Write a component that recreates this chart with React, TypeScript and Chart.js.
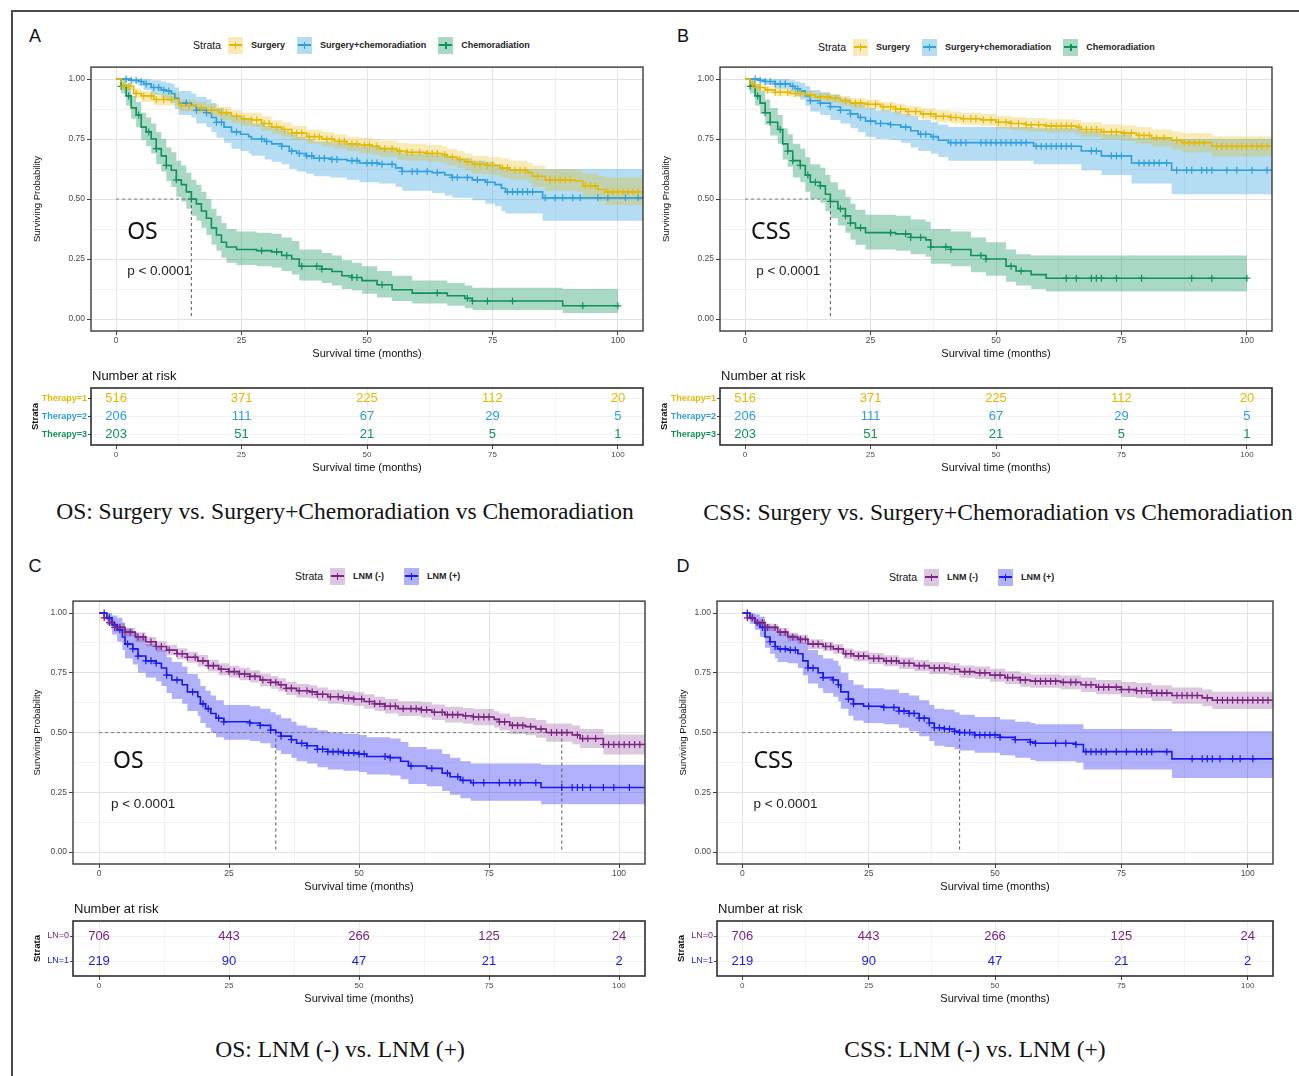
import React, { useEffect, useRef } from "react";
import { Chart, registerables } from "chart.js";

Chart.register(...registerables);

const SANS = "'Liberation Sans', Arial, sans-serif";
const SERIF = "'Liberation Serif', 'Times New Roman', serif";
const HUMAN = "'Noto Sans', 'Open Sans', sans-serif";

// ---------------- shared axes ----------------
const timeTicks = [0, 25, 50, 75, 100];
const timeMinorTicks = [12.5, 37.5, 62.5, 87.5];
const probTicks = [0, 0.25, 0.5, 0.75, 1];
const probMinorTicks = [0.125, 0.375, 0.625, 0.875];
const riskTimes = [0, 25, 50, 75, 100];

// ---------------- number at risk ----------------
const therapyLabels = ["Therapy=1", "Therapy=2", "Therapy=3"];
const riskTherapy1 = [516, 371, 225, 112, 20];
const riskTherapy2 = [206, 111, 67, 29, 5];
const riskTherapy3 = [203, 51, 21, 5, 1];
const lnLabels = ["LN=0", "LN=1"];
const riskLN0 = [706, 443, 266, 125, 24];
const riskLN1 = [219, 90, 47, 21, 2];

// ---------------- Panel A: OS by therapy ----------------
const aSurgTime = [0, 1, 3.5, 5, 7.5, 12.5, 16, 18, 20.5, 23, 25, 27, 29, 31, 33, 35, 38, 41, 43.5, 46, 48.5, 51, 52.5, 56, 58, 62, 65, 66, 68, 69.5, 71, 74, 76.5, 78.5, 82, 83, 85.5, 91.5, 93, 96, 97.5, 105];
const aSurgSurv = [1, 0.97, 0.94, 0.93, 0.915, 0.89, 0.88, 0.87, 0.86, 0.845, 0.835, 0.83, 0.815, 0.8, 0.79, 0.775, 0.76, 0.75, 0.74, 0.73, 0.725, 0.72, 0.71, 0.7, 0.695, 0.69, 0.685, 0.675, 0.665, 0.655, 0.645, 0.64, 0.63, 0.62, 0.61, 0.595, 0.58, 0.575, 0.555, 0.54, 0.53, 0.53];
const aSurgUpper = [1, 0.985, 0.96, 0.95, 0.94, 0.915, 0.905, 0.895, 0.885, 0.87, 0.86, 0.86, 0.845, 0.83, 0.82, 0.805, 0.79, 0.78, 0.77, 0.76, 0.755, 0.75, 0.745, 0.735, 0.73, 0.725, 0.72, 0.71, 0.7, 0.69, 0.68, 0.675, 0.67, 0.66, 0.65, 0.64, 0.625, 0.62, 0.605, 0.595, 0.59, 0.59];
const aSurgLower = [1, 0.955, 0.92, 0.905, 0.89, 0.865, 0.855, 0.845, 0.83, 0.815, 0.805, 0.8, 0.785, 0.77, 0.76, 0.745, 0.73, 0.72, 0.71, 0.7, 0.69, 0.685, 0.675, 0.665, 0.66, 0.655, 0.65, 0.64, 0.63, 0.62, 0.605, 0.6, 0.59, 0.58, 0.57, 0.55, 0.535, 0.53, 0.505, 0.49, 0.475, 0.475];
const aSurgCensor = [1.5, 2.5, 4, 5.5, 7, 8, 9.5, 11, 13, 14.5, 17, 19, 21, 22, 24, 25.5, 27, 28, 29.5, 30.5, 32, 33.5, 35, 36, 37, 38.5, 39.5, 40.5, 42, 43, 44.5, 45.5, 47, 48, 49.5, 50.5, 52, 53.5, 55, 56.5, 58, 59, 60.5, 62, 63, 64, 65.5, 67, 68.5, 70, 71.5, 72.5, 74, 75, 77, 78, 79.5, 80.5, 81.5, 84, 86.5, 87.5, 88.5, 89.5, 90.5, 93.5, 94.5, 95.5, 98, 99, 100, 101, 102, 103, 104];

const aScTime = [0, 3, 4.5, 5.5, 7, 9, 10, 11, 11.7, 12.5, 15, 16, 18, 19, 20, 21.5, 23, 24.8, 26.4, 27, 29.6, 31, 33, 34.5, 36, 37.8, 39.4, 42.7, 46, 48.5, 52.4, 55.7, 57, 63, 65.5, 67, 71, 73.6, 75.5, 76.8, 77.6, 85, 105];
const aScSurv = [1, 0.995, 0.99, 0.98, 0.965, 0.955, 0.95, 0.94, 0.92, 0.9, 0.89, 0.87, 0.86, 0.84, 0.82, 0.8, 0.78, 0.77, 0.76, 0.75, 0.74, 0.73, 0.72, 0.7, 0.69, 0.68, 0.67, 0.665, 0.66, 0.65, 0.645, 0.63, 0.615, 0.61, 0.6, 0.59, 0.58, 0.57, 0.56, 0.545, 0.53, 0.505, 0.505];
const aScUpper = [1, 1, 1, 1, 0.995, 0.99, 0.985, 0.98, 0.965, 0.95, 0.94, 0.925, 0.915, 0.9, 0.88, 0.865, 0.845, 0.835, 0.825, 0.815, 0.805, 0.795, 0.785, 0.77, 0.76, 0.75, 0.74, 0.735, 0.73, 0.72, 0.715, 0.705, 0.69, 0.685, 0.68, 0.67, 0.66, 0.655, 0.645, 0.635, 0.625, 0.625, 0.625];
const aScLower = [1, 0.985, 0.97, 0.955, 0.935, 0.92, 0.91, 0.9, 0.875, 0.85, 0.84, 0.815, 0.8, 0.78, 0.755, 0.735, 0.71, 0.7, 0.69, 0.68, 0.665, 0.655, 0.645, 0.625, 0.615, 0.605, 0.595, 0.59, 0.58, 0.57, 0.565, 0.55, 0.535, 0.525, 0.515, 0.505, 0.495, 0.48, 0.47, 0.45, 0.44, 0.41, 0.41];
const aScCensor = [2, 3, 4, 5, 6, 7.5, 8.5, 9.5, 10.5, 14, 16, 18, 20, 21, 24, 29, 30, 33, 35, 36.5, 38, 39, 40.5, 41.5, 43, 44, 47, 48, 50, 51, 52, 53, 55, 57, 59, 60, 62, 64, 67, 68, 70, 72, 74, 78, 79, 80, 81, 82, 83, 85.5, 87.5, 89, 91, 92.5, 96, 98, 101.5, 104];

const aChTime = [0, 1, 2, 3, 4, 5, 6, 7, 8, 9, 10, 11, 12, 13, 14, 15, 16, 17, 18, 19, 20, 21, 22, 24, 28, 31, 33, 35, 36.5, 41, 43, 45, 47, 49, 52, 55, 59, 66, 69.5, 71, 89, 100];
const aChSurv = [1, 0.97, 0.93, 0.88, 0.85, 0.8, 0.78, 0.75, 0.71, 0.68, 0.64, 0.62, 0.58, 0.56, 0.53, 0.5, 0.48, 0.45, 0.42, 0.38, 0.35, 0.32, 0.3, 0.29, 0.285, 0.28, 0.265, 0.25, 0.22, 0.208, 0.198, 0.18, 0.173, 0.16, 0.143, 0.122, 0.108, 0.097, 0.086, 0.075, 0.055, 0.055];
const aChUpper = [1, 1, 0.98, 0.93, 0.905, 0.86, 0.84, 0.815, 0.78, 0.75, 0.715, 0.695, 0.66, 0.64, 0.61, 0.58, 0.56, 0.53, 0.5, 0.46, 0.43, 0.4, 0.375, 0.365, 0.36, 0.355, 0.34, 0.325, 0.29, 0.275, 0.265, 0.245, 0.235, 0.22, 0.2, 0.18, 0.16, 0.15, 0.14, 0.13, 0.125, 0.125];
const aChLower = [1, 0.94, 0.89, 0.835, 0.8, 0.745, 0.72, 0.69, 0.645, 0.615, 0.575, 0.55, 0.51, 0.49, 0.46, 0.43, 0.41, 0.38, 0.35, 0.31, 0.285, 0.255, 0.235, 0.225, 0.22, 0.215, 0.2, 0.185, 0.16, 0.15, 0.14, 0.125, 0.12, 0.105, 0.09, 0.075, 0.065, 0.055, 0.045, 0.038, 0.025, 0.025];
const aChCensor = [1, 2.5, 4.5, 6.5, 8, 10, 12, 15, 29, 32, 34, 37, 40, 41, 47, 48, 53, 64, 70, 71, 74, 79, 93, 100];

// ---------------- Panel B: CSS by therapy ----------------
const bSurgTime = [0, 1, 2, 4, 6, 9, 12, 14, 17, 19, 21, 24, 27, 30, 32, 35, 38, 41, 43, 47, 50, 53, 56, 60, 66, 67, 71, 75, 78, 81, 85, 87, 93, 105];
const bSurgSurv = [1, 0.98, 0.965, 0.955, 0.945, 0.94, 0.935, 0.925, 0.92, 0.91, 0.9, 0.895, 0.885, 0.875, 0.865, 0.855, 0.845, 0.84, 0.835, 0.83, 0.82, 0.815, 0.81, 0.805, 0.8, 0.79, 0.78, 0.775, 0.765, 0.755, 0.745, 0.735, 0.72, 0.715];
const bSurgUpper = [1, 0.99, 0.98, 0.97, 0.96, 0.955, 0.95, 0.942, 0.938, 0.93, 0.92, 0.915, 0.905, 0.897, 0.888, 0.878, 0.87, 0.865, 0.86, 0.855, 0.847, 0.842, 0.838, 0.833, 0.83, 0.82, 0.812, 0.808, 0.8, 0.79, 0.782, 0.775, 0.762, 0.76];
const bSurgLower = [1, 0.97, 0.95, 0.94, 0.93, 0.925, 0.92, 0.908, 0.902, 0.89, 0.88, 0.875, 0.865, 0.853, 0.842, 0.832, 0.82, 0.815, 0.81, 0.805, 0.793, 0.788, 0.782, 0.777, 0.77, 0.76, 0.748, 0.742, 0.73, 0.72, 0.708, 0.695, 0.678, 0.67];
const bSurgCensor = [1.5, 3, 4.5, 6, 7, 8.5, 10, 11, 13, 15, 16.5, 18, 20, 22, 23, 24.5, 26, 27.5, 29, 30, 31, 32.5, 34, 35.5, 37, 38, 39.5, 41, 42, 43.5, 45, 46, 47.5, 49, 50.5, 52, 53, 54.5, 56, 57, 58.5, 60, 61, 62, 63, 64, 65, 66.5, 68, 69, 70, 71.5, 73, 74, 75.5, 77, 78.5, 79.5, 80.5, 82, 83.5, 86, 87.5, 88.5, 89.5, 90.5, 91.5, 94, 95, 96, 97, 98, 99, 100, 101, 102, 103, 104];

const bScTime = [0, 3, 4, 6, 9, 10, 11, 12, 13, 15, 17, 19, 21, 22.5, 24, 26, 29, 31, 33, 34.5, 37, 38.5, 40.5, 57.5, 67, 71, 77, 85, 105];
const bScSurv = [1, 0.995, 0.99, 0.98, 0.97, 0.96, 0.95, 0.93, 0.91, 0.9, 0.885, 0.87, 0.855, 0.84, 0.825, 0.815, 0.81, 0.8, 0.785, 0.77, 0.76, 0.745, 0.735, 0.72, 0.7, 0.68, 0.65, 0.62, 0.62];
const bScUpper = [1, 1, 1, 1, 0.995, 0.99, 0.985, 0.97, 0.955, 0.945, 0.935, 0.92, 0.905, 0.895, 0.88, 0.87, 0.865, 0.855, 0.845, 0.83, 0.82, 0.81, 0.8, 0.795, 0.785, 0.77, 0.755, 0.75, 0.75];
const bScLower = [1, 0.985, 0.975, 0.96, 0.945, 0.93, 0.915, 0.89, 0.865, 0.85, 0.83, 0.815, 0.795, 0.78, 0.76, 0.75, 0.745, 0.735, 0.715, 0.7, 0.69, 0.675, 0.66, 0.645, 0.62, 0.6, 0.565, 0.52, 0.52];
const bScCensor = [2, 3, 4, 5, 6, 7, 8, 9.5, 10.5, 13, 15, 17, 19, 21, 23, 25, 27, 29, 32, 35, 36, 37.5, 41, 42, 43, 44, 47, 48, 49, 50, 51, 52, 53, 54, 55, 56, 58, 59, 60, 61, 62, 63, 64, 65, 69, 70, 73, 74, 75, 78.5, 79.5, 80.5, 81.5, 82.5, 84, 86, 88, 89, 91, 92, 93, 96, 98, 101, 104];

const bChTime = [0, 1, 2, 3, 4, 5, 6.5, 7.5, 8.5, 9.5, 11, 12, 13, 15, 16, 17, 18.5, 20, 21, 22, 24, 30, 33, 36, 37, 41, 45, 48, 52, 54, 57, 60, 100];
const bChSurv = [1, 0.97, 0.93, 0.9, 0.86, 0.82, 0.79, 0.73, 0.7, 0.66, 0.64, 0.6, 0.57, 0.555, 0.52, 0.49, 0.46, 0.43, 0.4, 0.38, 0.36, 0.355, 0.34, 0.33, 0.3, 0.29, 0.265, 0.25, 0.22, 0.2, 0.185, 0.17, 0.17];
const bChUpper = [1, 1, 0.98, 0.95, 0.915, 0.88, 0.85, 0.795, 0.77, 0.73, 0.71, 0.675, 0.645, 0.63, 0.6, 0.57, 0.54, 0.51, 0.48, 0.455, 0.435, 0.43, 0.415, 0.405, 0.375, 0.365, 0.34, 0.32, 0.29, 0.27, 0.265, 0.265, 0.265];
const bChLower = [1, 0.94, 0.89, 0.855, 0.81, 0.765, 0.73, 0.665, 0.635, 0.59, 0.57, 0.53, 0.5, 0.485, 0.45, 0.42, 0.39, 0.36, 0.33, 0.31, 0.29, 0.285, 0.27, 0.26, 0.23, 0.22, 0.195, 0.18, 0.155, 0.14, 0.125, 0.115, 0.115];
const bChCensor = [1, 2.5, 4, 5, 7, 8.5, 9.5, 11, 12.5, 14, 15, 17, 19, 20, 21, 23, 29, 32, 33, 35, 37, 40, 41, 47, 48, 53, 55, 64, 66, 69, 70, 71, 74, 79, 89, 93, 100];

// ---------------- Panel C: OS by lymph node status ----------------
const cNegTime = [0, 1, 2, 3, 5, 7, 9, 11, 13, 15, 17, 19, 21, 23, 25, 27, 29, 31, 33, 34.5, 36, 38, 40.5, 42, 44, 47, 49, 51, 53, 55, 57.5, 62, 64, 66.5, 70, 72, 76, 77, 79, 82, 84, 86, 91, 92.5, 97, 105];
const cNegSurv = [1, 0.98, 0.96, 0.94, 0.92, 0.9, 0.88, 0.86, 0.845, 0.83, 0.815, 0.8, 0.78, 0.765, 0.755, 0.745, 0.735, 0.72, 0.71, 0.7, 0.685, 0.675, 0.67, 0.66, 0.65, 0.645, 0.64, 0.63, 0.62, 0.61, 0.6, 0.595, 0.585, 0.575, 0.57, 0.565, 0.555, 0.545, 0.53, 0.525, 0.515, 0.5, 0.49, 0.475, 0.45, 0.45];
const cNegUpper = [1, 0.99, 0.975, 0.957, 0.938, 0.92, 0.9, 0.882, 0.867, 0.853, 0.838, 0.824, 0.805, 0.79, 0.78, 0.771, 0.761, 0.747, 0.737, 0.727, 0.713, 0.703, 0.698, 0.688, 0.679, 0.674, 0.669, 0.66, 0.65, 0.64, 0.631, 0.627, 0.617, 0.608, 0.603, 0.599, 0.589, 0.58, 0.566, 0.561, 0.552, 0.538, 0.529, 0.515, 0.492, 0.492];
const cNegLower = [1, 0.97, 0.945, 0.923, 0.902, 0.88, 0.86, 0.838, 0.823, 0.807, 0.792, 0.776, 0.755, 0.74, 0.73, 0.719, 0.709, 0.693, 0.683, 0.673, 0.657, 0.647, 0.642, 0.632, 0.621, 0.616, 0.611, 0.6, 0.59, 0.58, 0.569, 0.563, 0.553, 0.542, 0.537, 0.531, 0.521, 0.51, 0.494, 0.489, 0.478, 0.462, 0.451, 0.435, 0.408, 0.408];
const cNegCensor = [1, 2, 3, 4, 5, 6, 7.5, 8.5, 10, 11, 12, 13.5, 15, 16, 17, 18.5, 20, 21, 22, 23.5, 25, 26, 27, 28, 29, 30, 31.5, 33, 34, 35, 36, 37, 38.5, 40, 41, 42, 43, 44.5, 46, 47, 48, 49, 50.5, 52, 53, 54, 55, 56, 57, 58.5, 60, 61, 62, 63, 64.5, 66, 67, 68, 69, 70.5, 72, 73, 74, 75, 77, 78, 79.5, 80.5, 81.5, 83, 85, 87, 88, 89, 90, 92, 93, 94, 95.5, 97, 98, 99, 100, 101, 102, 103, 104];

const cPosTime = [0, 1.5, 2.5, 3.5, 4.5, 5, 6.5, 7.5, 9, 11, 12, 13, 14, 16, 17, 19, 19.5, 20.5, 21.5, 22.5, 24, 29, 31, 33, 34, 35, 37, 38, 40, 42, 44, 47, 50, 51.5, 56, 58, 59.5, 63, 66, 67.5, 69.5, 71.5, 85, 105];
const cPosSurv = [1, 0.98, 0.95, 0.93, 0.9, 0.87, 0.85, 0.82, 0.8, 0.79, 0.77, 0.74, 0.72, 0.7, 0.67, 0.65, 0.62, 0.6, 0.58, 0.56, 0.545, 0.54, 0.53, 0.51, 0.5, 0.485, 0.47, 0.455, 0.445, 0.43, 0.42, 0.415, 0.41, 0.4, 0.395, 0.38, 0.36, 0.35, 0.33, 0.315, 0.3, 0.29, 0.27, 0.27];
const cPosUpper = [1, 1, 0.99, 0.98, 0.96, 0.935, 0.915, 0.895, 0.87, 0.86, 0.845, 0.815, 0.795, 0.775, 0.745, 0.725, 0.695, 0.675, 0.655, 0.635, 0.615, 0.61, 0.6, 0.585, 0.575, 0.56, 0.545, 0.53, 0.52, 0.51, 0.5, 0.495, 0.49, 0.48, 0.475, 0.46, 0.44, 0.43, 0.41, 0.395, 0.38, 0.37, 0.365, 0.365];
const cPosLower = [1, 0.95, 0.91, 0.88, 0.845, 0.81, 0.785, 0.75, 0.73, 0.715, 0.695, 0.665, 0.64, 0.62, 0.59, 0.57, 0.54, 0.52, 0.5, 0.48, 0.47, 0.465, 0.455, 0.435, 0.425, 0.41, 0.395, 0.38, 0.37, 0.355, 0.345, 0.34, 0.335, 0.325, 0.32, 0.305, 0.285, 0.275, 0.255, 0.24, 0.225, 0.215, 0.2, 0.2];
const cPosCensor = [1, 2, 3, 4, 5.5, 6.5, 7.5, 9, 10, 11, 13, 15, 18, 20, 21, 23, 24, 29, 31, 33, 35, 37, 39, 40, 42, 43, 44, 45, 46, 47, 48, 49, 50, 51, 55, 56, 60, 64, 67, 69, 70, 72, 74, 77, 79, 80, 81, 84, 89, 91, 92, 93, 94.5, 97, 99, 102];

// ---------------- Panel D: CSS by lymph node status ----------------
const dNegTime = [0, 1, 2.5, 4.5, 7, 9, 11, 13, 16, 18, 20, 22, 25, 28, 31, 34, 37, 41, 43, 46, 49, 52, 55, 57, 63, 67, 70, 75, 78, 81, 85, 91, 93, 105];
const dNegSurv = [1, 0.98, 0.96, 0.94, 0.92, 0.9, 0.89, 0.87, 0.86, 0.85, 0.83, 0.82, 0.81, 0.8, 0.79, 0.78, 0.77, 0.765, 0.755, 0.75, 0.74, 0.73, 0.72, 0.715, 0.71, 0.7, 0.69, 0.68, 0.675, 0.665, 0.655, 0.645, 0.635, 0.635];
const dNegUpper = [1, 0.99, 0.973, 0.955, 0.937, 0.918, 0.909, 0.89, 0.88, 0.871, 0.852, 0.842, 0.833, 0.823, 0.814, 0.804, 0.795, 0.79, 0.781, 0.776, 0.767, 0.757, 0.748, 0.743, 0.739, 0.73, 0.72, 0.711, 0.707, 0.698, 0.689, 0.68, 0.671, 0.671];
const dNegLower = [1, 0.97, 0.947, 0.925, 0.903, 0.882, 0.871, 0.85, 0.84, 0.829, 0.808, 0.798, 0.787, 0.777, 0.766, 0.756, 0.745, 0.74, 0.729, 0.724, 0.713, 0.703, 0.692, 0.687, 0.681, 0.67, 0.66, 0.649, 0.643, 0.632, 0.621, 0.61, 0.599, 0.599];
const dNegCensor = [1, 2, 3, 4, 5, 6.5, 7.5, 8.5, 10, 11.5, 12.5, 14, 15, 16.5, 17.5, 19, 20.5, 21.5, 23, 24, 26, 27, 28.5, 29.5, 30.5, 32, 33, 35, 36, 38, 39, 40, 42, 44, 45, 47, 48, 50, 51, 52.5, 53.5, 55, 56, 58, 59, 60, 61, 62, 63.5, 65, 66, 68, 69, 70.5, 71.5, 72.5, 74, 75, 76.5, 78, 79, 80, 81, 82, 83, 84, 86, 87, 88, 89, 90, 92, 94, 95, 96, 97, 98, 99, 100, 101, 102, 103, 104];

const dPosTime = [0, 1.5, 2.5, 3.5, 4.5, 5.5, 6.5, 7, 9, 11, 12, 13, 15, 16, 18, 19, 19.5, 21, 22, 24, 28, 31, 33, 35, 37, 38, 40, 42, 43, 46, 51, 54, 57, 58, 66, 67.5, 85, 105];
const dPosSurv = [1, 0.98, 0.96, 0.94, 0.9, 0.88, 0.86, 0.85, 0.845, 0.83, 0.8, 0.77, 0.75, 0.73, 0.72, 0.7, 0.67, 0.64, 0.62, 0.61, 0.605, 0.59, 0.58, 0.56, 0.54, 0.52, 0.515, 0.505, 0.5, 0.49, 0.48, 0.47, 0.46, 0.455, 0.45, 0.42, 0.39, 0.39];
const dPosUpper = [1, 1, 0.995, 0.985, 0.955, 0.94, 0.925, 0.915, 0.91, 0.9, 0.875, 0.845, 0.825, 0.81, 0.8, 0.78, 0.75, 0.72, 0.7, 0.685, 0.68, 0.665, 0.655, 0.635, 0.615, 0.6, 0.595, 0.585, 0.575, 0.565, 0.555, 0.545, 0.54, 0.535, 0.535, 0.515, 0.505, 0.505];
const dPosLower = [1, 0.955, 0.93, 0.9, 0.855, 0.83, 0.81, 0.795, 0.79, 0.77, 0.74, 0.705, 0.685, 0.665, 0.65, 0.63, 0.6, 0.57, 0.55, 0.54, 0.535, 0.52, 0.505, 0.485, 0.465, 0.445, 0.44, 0.43, 0.425, 0.415, 0.405, 0.395, 0.385, 0.38, 0.375, 0.345, 0.31, 0.31];
const dPosCensor = [1, 2, 3, 4, 5.5, 6.5, 7.5, 8.5, 9.5, 10.5, 13, 14, 16, 18, 19, 21, 22, 25, 28, 30, 31, 32, 33, 34, 35, 36, 37, 38, 39, 40, 41, 42, 43, 44, 45, 46, 47, 48, 49, 50, 51, 54, 57, 58, 62, 64, 66, 68, 69, 70, 71, 72, 74, 76, 78, 79, 80, 81, 84, 89, 91, 92, 93, 94.5, 97, 98.5, 101];

// ---------------- colours ----------------
const COL_SURG = "#E7B800";
const COL_SC = "#2E9FDF";
const COL_CH = "#10925B";
const COL_NEG = "#7A2383";
const COL_POS = "#1818F2";
const BAND_SURG = "rgba(231,184,0,0.28)";
const BAND_SC = "rgba(46,159,223,0.36)";
const BAND_CH = "rgba(16,146,91,0.36)";
const BAND_NEG = "rgba(122,35,131,0.26)";
const BAND_POS = "rgba(24,24,242,0.34)";

type Series = {
  label: string; color: string; band: string;
  time: number[]; surv: number[];
  upper: number[]; lower: number[];
  censor: number[];
};
type Box = { l: number; t: number; r: number; b: number };
type RiskRow = { label: string; color: string; values: number[] };
type Panel = {
  letter: string; letterX: number; letterY: number;
  plot: Box; risk: Box;
  yTitleGap: number; strataGap: number;
  legendLeft: number; legendY: number; legendGap: number;
  series: Series[];
  medians: number[];
  tag: string; tagAt: [number, number]; pAt: [number, number];
  riskRows: RiskRow[]; riskLabelBold: boolean;
  caption: string; captionX: number; captionY: number;
};

type Arr5 = [number[], number[], number[], number[], number[]];
const mk = (label: string, color: string, band: string, s: Arr5): Series => ({
  label, color, band, time: s[0], surv: s[1], upper: s[2], lower: s[3], censor: s[4],
});

const therapyRisk: RiskRow[] = [
  { label: therapyLabels[0], color: COL_SURG, values: riskTherapy1 },
  { label: therapyLabels[1], color: COL_SC, values: riskTherapy2 },
  { label: therapyLabels[2], color: COL_CH, values: riskTherapy3 },
];
const lnRisk: RiskRow[] = [
  { label: lnLabels[0], color: COL_NEG, values: riskLN0 },
  { label: lnLabels[1], color: COL_POS, values: riskLN1 },
];

const panels: Panel[] = [
  {
    letter: "A", letterX: 35, letterY: 36,
    plot: { l: 91, t: 66, r: 643, b: 331 }, risk: { l: 91, t: 388, r: 643, b: 445 },
    yTitleGap: 54, strataGap: 56, legendLeft: 193, legendY: 45, legendGap: 12,
    series: [
      mk("Surgery", COL_SURG, BAND_SURG, [aSurgTime, aSurgSurv, aSurgUpper, aSurgLower, aSurgCensor]),
      mk("Surgery+chemoradiation", COL_SC, BAND_SC, [aScTime, aScSurv, aScUpper, aScLower, aScCensor]),
      mk("Chemoradiation", COL_CH, BAND_CH, [aChTime, aChSurv, aChUpper, aChLower, aChCensor]),
    ],
    medians: [15], tag: "OS", tagAt: [2.2, 0.36], pAt: [2.2, 0.2],
    riskRows: therapyRisk, riskLabelBold: true,
    caption: "OS: Surgery vs. Surgery+Chemoradiation vs Chemoradiation", captionX: 345, captionY: 512,
  },
  {
    letter: "B", letterX: 683, letterY: 36,
    plot: { l: 720, t: 66, r: 1272, b: 331 }, risk: { l: 720, t: 388, r: 1272, b: 445 },
    yTitleGap: 54, strataGap: 56, legendLeft: 818, legendY: 47, legendGap: 12,
    series: [
      mk("Surgery", COL_SURG, BAND_SURG, [bSurgTime, bSurgSurv, bSurgUpper, bSurgLower, bSurgCensor]),
      mk("Surgery+chemoradiation", COL_SC, BAND_SC, [bScTime, bScSurv, bScUpper, bScLower, bScCensor]),
      mk("Chemoradiation", COL_CH, BAND_CH, [bChTime, bChSurv, bChUpper, bChLower, bChCensor]),
    ],
    medians: [17], tag: "CSS", tagAt: [1.2, 0.36], pAt: [2.2, 0.2],
    riskRows: therapyRisk, riskLabelBold: true,
    caption: "CSS: Surgery vs. Surgery+Chemoradiation vs Chemoradiation", captionX: 998, captionY: 513,
  },
  {
    letter: "C", letterX: 35, letterY: 566,
    plot: { l: 73, t: 600, r: 645, b: 864 }, risk: { l: 73, t: 921, r: 645, b: 976 },
    yTitleGap: 36, strataGap: 36, legendLeft: 295, legendY: 576, legendGap: 20,
    series: [
      mk("LNM (-)", COL_NEG, BAND_NEG, [cNegTime, cNegSurv, cNegUpper, cNegLower, cNegCensor]),
      mk("LNM (+)", COL_POS, BAND_POS, [cPosTime, cPosSurv, cPosUpper, cPosLower, cPosCensor]),
    ],
    medians: [34, 89], tag: "OS", tagAt: [2.7, 0.378], pAt: [2.3, 0.2],
    riskRows: lnRisk, riskLabelBold: false,
    caption: "OS: LNM (-) vs. LNM (+)", captionX: 340, captionY: 1050,
  },
  {
    letter: "D", letterX: 683, letterY: 566,
    plot: { l: 717, t: 600, r: 1273, b: 864 }, risk: { l: 717, t: 921, r: 1273, b: 976 },
    yTitleGap: 34, strataGap: 36, legendLeft: 889, legendY: 577, legendGap: 20,
    series: [
      mk("LNM (-)", COL_NEG, BAND_NEG, [dNegTime, dNegSurv, dNegUpper, dNegLower, dNegCensor]),
      mk("LNM (+)", COL_POS, BAND_POS, [dPosTime, dPosSurv, dPosUpper, dPosLower, dPosCensor]),
    ],
    medians: [43], tag: "CSS", tagAt: [2.2, 0.378], pAt: [2.2, 0.2],
    riskRows: lnRisk, riskLabelBold: false,
    caption: "CSS: LNM (-) vs. LNM (+)", captionX: 975, captionY: 1050,
  },
];

function stepAt(times: number[], surv: number[], t: number): number {
  let v = surv[0];
  for (let i = 0; i < times.length; i++) {
    if (times[i] <= t) v = surv[i];
    else break;
  }
  return v;
}

const KM_PAD = { l: 80, t: 6, r: 8, b: 40 };
const RISK_PAD = { l: 80, t: 24, r: 8, b: 34 };

function gridOpts(major: number[], majorCol: string, minorCol: string) {
  return {
    color: (c: any) => (c.tick && major.includes(c.tick.value) ? majorCol : minorCol),
    tickColor: (c: any) => (c.tick && major.includes(c.tick.value) ? "#444" : "rgba(0,0,0,0)"),
    tickLength: 4,
    lineWidth: 1,
    drawTicks: true,
  };
}

function KMPlot({ p }: { p: Panel }) {
  const ref = useRef<HTMLCanvasElement | null>(null);
  const W = p.plot.r - p.plot.l + KM_PAD.l + KM_PAD.r;
  const H = p.plot.b - p.plot.t + KM_PAD.t + KM_PAD.b;
  useEffect(() => {
    if (!ref.current) return;
    const datasets: any[] = [];
    p.series.forEach((s) =>
      datasets.push({
        type: "scatter",
        data: s.censor.map((x) => ({ x, y: stepAt(s.time, s.surv, x) })),
        pointStyle: "cross", pointRadius: 3.5, pointHoverRadius: 3.5,
        borderColor: s.color, backgroundColor: s.color, pointBorderWidth: 1.2,
        showLine: false, order: 0,
      })
    );
    p.series.forEach((s) =>
      datasets.push({
        type: "line",
        data: s.time.map((x, i) => ({ x, y: s.surv[i] })),
        stepped: true, borderColor: s.color, borderWidth: 1.6,
        pointRadius: 0, pointHoverRadius: 0, fill: false, order: 1,
      })
    );
    const medMax = Math.max(...p.medians);
    datasets.push({
      type: "line", data: [{ x: 0, y: 0.5 }, { x: medMax, y: 0.5 }],
      borderColor: "#7a7a7a", borderDash: [3, 3], borderWidth: 1, pointRadius: 0, fill: false, order: 2,
    });
    p.medians.forEach((m) =>
      datasets.push({
        type: "line", data: [{ x: m, y: 0.5 }, { x: m, y: 0 }],
        borderColor: "#555", borderDash: [3, 3], borderWidth: 1, pointRadius: 0, fill: false, order: 2,
      })
    );
    p.series.forEach((s) => {
      datasets.push({
        type: "line", data: s.time.map((x, i) => ({ x, y: s.upper[i] })),
        stepped: true, borderWidth: 0, borderColor: "rgba(0,0,0,0)", pointRadius: 0, fill: false, order: 3,
      });
      datasets.push({
        type: "line", data: s.time.map((x, i) => ({ x, y: s.lower[i] })),
        stepped: true, borderWidth: 0, borderColor: "rgba(0,0,0,0)", pointRadius: 0,
        fill: "-1", backgroundColor: s.band, order: 3,
      });
    });

    const decor = {
      id: "kmDecor",
      afterDatasetsDraw(chart: any) {
        const { ctx, chartArea: a, scales } = chart;
        const x = scales.x, y = scales.y;
        ctx.save();
        ctx.strokeStyle = "#3a3a3a";
        ctx.lineWidth = 1.4;
        ctx.strokeRect(a.left, a.top, a.right - a.left, a.bottom - a.top);
        ctx.fillStyle = "#111";
        ctx.textAlign = "left";
        ctx.textBaseline = "middle";
        ctx.font = `23px ${HUMAN}`;
        ctx.fillText(p.tag, x.getPixelForValue(p.tagAt[0]), y.getPixelForValue(p.tagAt[1]));
        ctx.font = `13.5px ${SANS}`;
        ctx.fillStyle = "#222";
        ctx.fillText("p < 0.0001", x.getPixelForValue(p.pAt[0]), y.getPixelForValue(p.pAt[1]));
        ctx.fillStyle = "#111";
        ctx.textAlign = "center";
        ctx.font = `11px ${SANS}`;
        ctx.fillText("Survival time (months)", (a.left + a.right) / 2, a.bottom + 23);
        ctx.translate(a.left - p.yTitleGap, (a.top + a.bottom) / 2);
        ctx.rotate(-Math.PI / 2);
        ctx.font = `9.5px ${SANS}`;
        ctx.fillText("Surviving Probability", 0, 0);
        ctx.restore();
      },
    };

    const chart = new Chart(ref.current, {
      type: "scatter",
      data: { datasets },
      options: {
        responsive: false,
        animation: false,
        events: [],
        layout: { padding: { left: 0, top: KM_PAD.t, right: KM_PAD.r, bottom: 0 } },
        plugins: { legend: { display: false }, tooltip: { enabled: false } },
        scales: {
          x: {
            type: "linear", min: -5, max: 105,
            afterBuildTicks: (sc: any) => {
              sc.ticks = [...timeTicks, ...timeMinorTicks].sort((m, n) => m - n).map((v) => ({ value: v }));
            },
            afterFit: (sc: any) => { sc.height = KM_PAD.b; },
            ticks: {
              autoSkip: false, maxRotation: 0, padding: 1,
              font: { family: SANS, size: 8.5 }, color: "#4a4a4a",
              callback: (v: any) => (timeTicks.includes(v) ? String(v) : ""),
            },
            grid: gridOpts(timeTicks, "#E3E3E3", "#F1F1F1"),
            border: { display: false },
          },
          y: {
            type: "linear", min: -0.05, max: 1.05,
            afterBuildTicks: (sc: any) => {
              sc.ticks = [...probTicks, ...probMinorTicks].sort((m, n) => m - n).map((v) => ({ value: v }));
            },
            afterFit: (sc: any) => { sc.width = KM_PAD.l; },
            ticks: {
              autoSkip: false, padding: 2,
              font: { family: SANS, size: 8.5 }, color: "#4a4a4a",
              callback: (v: any) => (probTicks.includes(v) ? Number(v).toFixed(2) : ""),
            },
            grid: gridOpts(probTicks, "#E3E3E3", "#F1F1F1"),
            border: { display: false },
          },
        },
      } as any,
      plugins: [decor],
    });
    return () => chart.destroy();
  }, [p]);
  return (
    <canvas
      ref={ref}
      width={W}
      height={H}
      style={{ position: "absolute", left: p.plot.l - KM_PAD.l, top: p.plot.t - KM_PAD.t, width: W, height: H }}
    />
  );
}

function RiskTable({ p }: { p: Panel }) {
  const ref = useRef<HTMLCanvasElement | null>(null);
  const W = p.risk.r - p.risk.l + RISK_PAD.l + RISK_PAD.r;
  const H = p.risk.b - p.risk.t + RISK_PAD.t + RISK_PAD.b;
  useEffect(() => {
    if (!ref.current) return;
    const rows = p.riskRows;
    const n = rows.length;
    const datasets = rows.map((r, i) => ({
      type: "scatter",
      data: riskTimes.map((t) => ({ x: t, y: n - i })),
      pointRadius: 0, pointHoverRadius: 0,
    }));
    const decor = {
      id: "riskDecor",
      afterDatasetsDraw(chart: any) {
        const { ctx, chartArea: a } = chart;
        ctx.save();
        ctx.textAlign = "center";
        ctx.textBaseline = "middle";
        ctx.font = `13px ${SANS}`;
        rows.forEach((r, i) => {
          const meta = chart.getDatasetMeta(i);
          ctx.fillStyle = r.color;
          meta.data.forEach((el: any, j: number) => {
            ctx.fillText(String(r.values[j]), el.x, el.y);
          });
        });
        ctx.strokeStyle = "#2e2e2e";
        ctx.lineWidth = 1.6;
        ctx.strokeRect(a.left, a.top, a.right - a.left, a.bottom - a.top);
        ctx.fillStyle = "#111";
        ctx.textAlign = "left";
        ctx.font = `13px ${SANS}`;
        ctx.fillText("Number at risk", a.left + 1, a.top - 12);
        ctx.textAlign = "center";
        ctx.font = `11px ${SANS}`;
        ctx.fillText("Survival time (months)", (a.left + a.right) / 2, a.bottom + 23);
        ctx.translate(a.left - p.strataGap, (a.top + a.bottom) / 2);
        ctx.rotate(-Math.PI / 2);
        ctx.font = `bold 9.5px ${SANS}`;
        ctx.fillText("Strata", 0, 0);
        ctx.restore();
      },
    };
    const chart = new Chart(ref.current, {
      type: "scatter",
      data: { datasets } as any,
      options: {
        responsive: false,
        animation: false,
        events: [],
        layout: { padding: { left: 0, top: RISK_PAD.t, right: RISK_PAD.r, bottom: 0 } },
        plugins: { legend: { display: false }, tooltip: { enabled: false } },
        scales: {
          x: {
            type: "linear", min: -5, max: 105,
            afterBuildTicks: (sc: any) => {
              sc.ticks = [...timeTicks, ...timeMinorTicks].sort((m, k) => m - k).map((v) => ({ value: v }));
            },
            afterFit: (sc: any) => { sc.height = RISK_PAD.b; },
            ticks: {
              autoSkip: false, maxRotation: 0, padding: 1,
              font: { family: SANS, size: 8 }, color: "#4a4a4a",
              callback: (v: any) => (timeTicks.includes(v) ? String(v) : ""),
            },
            grid: gridOpts(timeTicks, "#EDEDED", "#F4F4F4"),
            border: { display: false },
          },
          y: {
            type: "linear", min: 0.4, max: n + 0.6,
            afterBuildTicks: (sc: any) => {
              sc.ticks = rows.map((_, i) => ({ value: n - i }));
            },
            afterFit: (sc: any) => { sc.width = RISK_PAD.l; },
            ticks: {
              autoSkip: false, padding: 1,
              font: { family: SANS, size: 9, weight: p.riskLabelBold ? "bold" : "normal" },
              color: (c: any) => (c.tick ? rows[n - c.tick.value].color : "#333"),
              callback: (v: any) => rows[n - v].label,
            },
            grid: {
              color: "#F1F1F1", tickColor: "#444", tickLength: 3, drawTicks: true,
            },
            border: { display: false },
          },
        },
      } as any,
      plugins: [decor],
    });
    return () => chart.destroy();
  }, [p]);
  return (
    <canvas
      ref={ref}
      width={W}
      height={H}
      style={{ position: "absolute", left: p.risk.l - RISK_PAD.l, top: p.risk.t - RISK_PAD.t, width: W, height: H }}
    />
  );
}

function Legend({ p }: { p: Panel }) {
  return (
    <div
      style={{
        position: "absolute", left: p.legendLeft, top: p.legendY - 10, height: 20,
        display: "flex", alignItems: "center", fontFamily: SANS, whiteSpace: "nowrap",
      }}
    >
      <span style={{ fontSize: 10.5, color: "#111", marginRight: 7 }}>Strata</span>
      {p.series.map((s, i) => (
        <React.Fragment key={s.label}>
          <span style={{ position: "relative", display: "inline-block", width: 15, height: 17, background: s.band, marginRight: 8 }}>
            <span style={{ position: "absolute", left: 1, right: 1, top: 7.75, height: 1.5, background: s.color }} />
            <span style={{ position: "absolute", left: 6.75, top: 5, width: 1.5, height: 7.5, background: s.color }} />
          </span>
          <span style={{ fontSize: 9, fontWeight: "bold", color: "#222", marginRight: i < p.series.length - 1 ? p.legendGap : 0 }}>
            {s.label}
          </span>
        </React.Fragment>
      ))}
    </div>
  );
}

function PanelView({ p }: { p: Panel }) {
  return (
    <>
      <div
        style={{
          position: "absolute", left: p.letterX, top: p.letterY, transform: "translate(-50%, -50%)",
          fontFamily: SANS, fontSize: 18, color: "#111", lineHeight: 1,
        }}
      >
        {p.letter}
      </div>
      <Legend p={p} />
      <KMPlot p={p} />
      <RiskTable p={p} />
      <div
        style={{
          position: "absolute", left: p.captionX, top: p.captionY, transform: "translate(-50%, -50%)",
          fontFamily: SERIF, fontSize: 23.5, color: "#111", whiteSpace: "nowrap", lineHeight: 1,
        }}
      >
        {p.caption}
      </div>
    </>
  );
}

export default function App() {
  return (
    <div style={{ position: "absolute", left: 0, top: 0, width: 1299, height: 1076, background: "#fff", overflow: "hidden" }}>
      <div
        style={{
          position: "absolute", left: 11, top: 10, width: 1299, height: 1080,
          borderTop: "2px solid #4a4a4a", borderLeft: "2px solid #4a4a4a", boxSizing: "border-box",
        }}
      />
      {panels.map((p) => (
        <PanelView key={p.letter} p={p} />
      ))}
    </div>
  );
}
